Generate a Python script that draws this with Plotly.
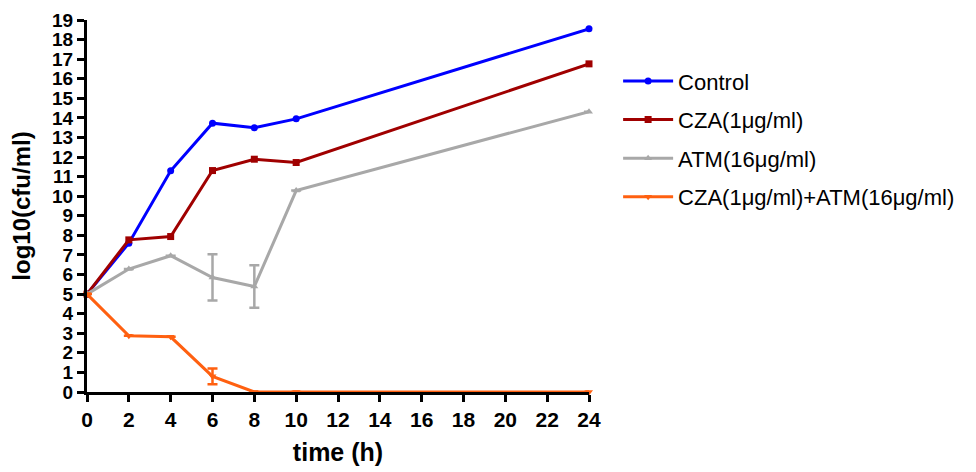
import plotly.graph_objects as go

time_h = [0, 2, 4, 6, 8, 10, 24]
control = [5.0, 7.6, 11.3, 13.73, 13.5, 13.95, 18.55]
cza = [5.0, 7.77, 7.94, 11.31, 11.89, 11.72, 16.76]
atm = [5.0, 6.28, 6.96, 5.85, 5.39, 10.29, 14.32]
atm_err = [0, 0, 0, 1.18, 1.09, 0, 0]
combo = [5.0, 2.87, 2.82, 0.8, 0.0, 0.0, 0.0]
combo_err = [0, 0, 0, 0.4, 0, 0, 0]

names = ["Control", "CZA(1μg/ml)", "ATM(16μg/ml)", "CZA(1μg/ml)+ATM(16μg/ml)"]
colors = ["#0000FF", "#A00000", "#A8A8A8", "#FF6010"]
symbols = ["circle", "square", "triangle-up", "triangle-down"]
series = [control, cza, atm, combo]
errs = [None, None, atm_err, combo_err]

fig = go.Figure()
for i, (name, col, sym, ys, er) in enumerate(zip(names, colors, symbols, series, errs)):
    kw = {}
    if er is not None:
        kw["error_y"] = dict(type="data", array=er, visible=True, color=col,
                             thickness=2.5, width=5)
    fig.add_trace(go.Scatter(
        x=time_h, y=ys, name=name, mode="lines+markers",
        legendgroup=f"g{i}",
        line=dict(color=col, width=3),
        marker=dict(symbol=sym, size=7, color=col),
        cliponaxis=False, **kw))

fig.update_layout(
    width=968, height=464,
    margin=dict(l=79, r=387, t=12, b=80),
    paper_bgcolor="white", plot_bgcolor="white",
    font=dict(family="Liberation Sans, Arial, sans-serif", color="black"),
    showlegend=True,
    legend=dict(x=1.058, y=0.892, xanchor="left", yanchor="top",
                font=dict(size=22, color="black"),
                itemwidth=50, tracegroupgap=7, bgcolor="rgba(0,0,0,0)"),
    xaxis=dict(range=[0, 24], tickmode="array", tickvals=list(range(0, 25, 2)),
               automargin=False,
               showgrid=False, zeroline=False, showline=True, linecolor="black",
               linewidth=3, ticks="outside", ticklen=7, tickwidth=3, tickcolor="black",
               tickfont=dict(size=21, family="Liberation Sans, Arial", weight="bold"),
               title=dict(text="<b>time (h)</b>", font=dict(size=25), standoff=14)),
    yaxis=dict(range=[0, 19], tickmode="array", tickvals=list(range(0, 20)),
               automargin=False,
               showgrid=False, zeroline=False, showline=True, linecolor="black",
               linewidth=3, ticks="outside", ticklen=7, tickwidth=3, tickcolor="black",
               tickfont=dict(size=19, family="Liberation Sans, Arial", weight="bold"),
               title=dict(text="<b>log10(cfu/ml)</b>", font=dict(size=24), standoff=16)),
)

fig.write_html("out.html")
